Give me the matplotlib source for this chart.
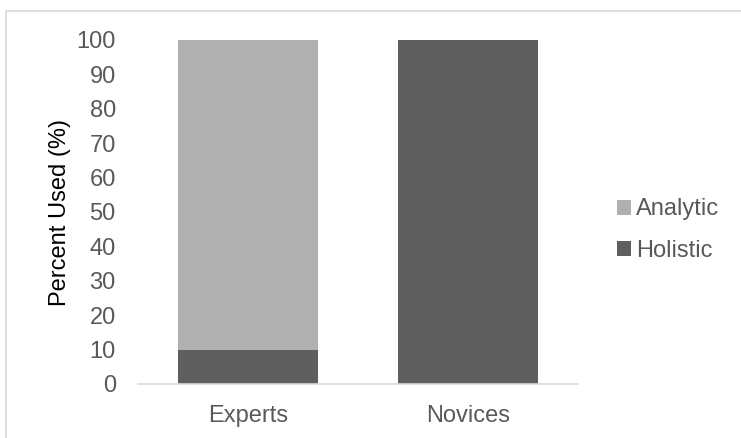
import matplotlib.pyplot as plt
from matplotlib.patches import Rectangle

plt.rcParams['font.family'] = ['Liberation Sans', 'DejaVu Sans']

groups = ['Experts', 'Novices']
holistic = [10, 100]
analytic = [90, 0]
yticks = list(range(0, 101, 10))

W, H = 741, 438
fig = plt.figure(figsize=(W / 100, H / 100), dpi=100)
ax = fig.add_axes([138 / W, (H - 384) / H, 440 / W, 344 / H])

# chart frame (Excel style)
fig.patches.append(Rectangle((6 / W, -0.1), 1.2, (H - 11) / H + 0.1,
                             transform=fig.transFigure, fill=False,
                             ec='#D9D9D9', lw=1.2))

x = range(len(groups))
b1 = ax.bar(x, holistic, width=0.64, color='#5F5F5F', label='Holistic')
b2 = ax.bar(x, analytic, width=0.64, bottom=holistic, color='#B0B0B0', label='Analytic')

ax.set_xlim(-0.5, 1.5)
ax.set_ylim(0, 100)
ax.set_yticks(yticks)
ax.set_xticks(list(x))
ax.set_xticklabels(groups)
ax.tick_params(axis='both', length=0, labelsize=17, colors='#595959')
ax.tick_params(axis='y', pad=16)
ax.tick_params(axis='x', pad=15)
for s in ['top', 'right', 'left']:
    ax.spines[s].set_visible(False)
ax.spines['bottom'].set_color('#D9D9D9')
ax.spines['bottom'].set_linewidth(1.2)

ax.set_ylabel('Percent Used (%)', fontsize=17, color='#000000', labelpad=4)

leg = ax.legend([b2, b1], ['Analytic', 'Holistic'], loc='center left',
                bbox_to_anchor=(1.04, 0.447), frameon=False, fontsize=17,
                handlelength=0.6, handleheight=0.6, handletextpad=0.2,
                labelspacing=0.83, labelcolor='#595959')

fig.savefig('out.png', dpi=100)
